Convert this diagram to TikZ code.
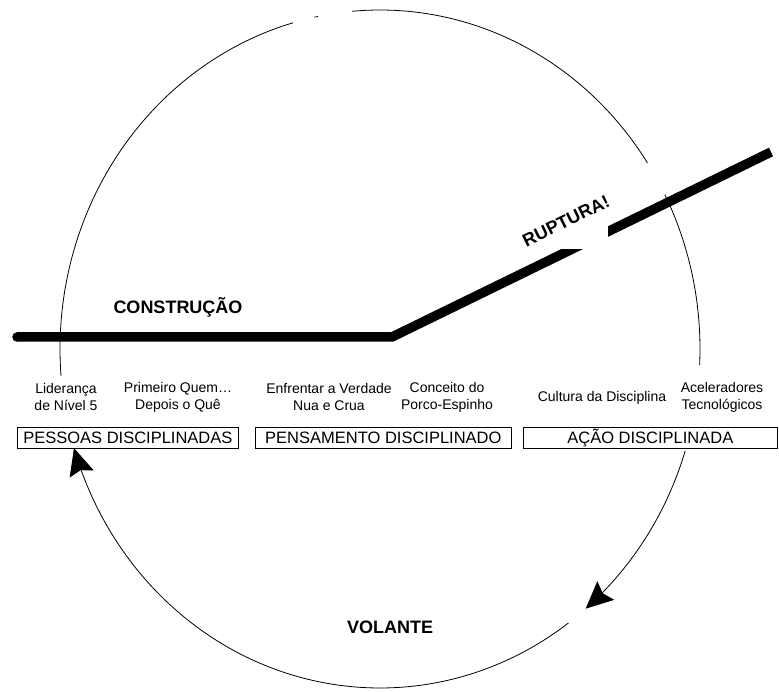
\documentclass[tikz,border=0pt]{standalone}
\usepackage{fontspec}
\setmainfont{Liberation Sans}
\usetikzlibrary{arrows.meta}
\begin{document}
\begin{tikzpicture}[x=1pt,y=-1pt,
  lbl/.style={font=\fontsize{14}{17}\selectfont, align=center, inner sep=0pt},
  pbox/.style={draw, line width=0.7pt, font=\fontsize{16.5}{20}\selectfont, minimum height=21pt, inner sep=0pt, anchor=north west},
  ttl/.style={font=\fontsize{18}{21}\selectfont\bfseries, inner sep=0pt},
  ring/.style={line width=0.8pt},
  bigtip/.style={-{Stealth[length=27pt,width=25pt,inset=4pt]}},
  bar/.style={line width=9.5pt}
]
\useasboundingbox (0,0) rectangle (779,692);
% ring arcs
\draw[ring] plot[domain=175.4:254.2, samples=120] ({380+320*cos(\x)},{349+339*sin(\x)});
\draw[ring] plot[domain=-101.8:-101.2, samples=3] ({380+320*cos(\x)},{349+339*sin(\x)});
\draw[ring] plot[domain=-95:-33.3, samples=120] ({380+320*cos(\x)},{349+339*sin(\x)});
\draw[ring] plot[domain=-27.1:2.7, samples=60] ({380+320*cos(\x)},{349+339*sin(\x)});
\draw[ring, bigtip] plot[domain=17.5:50, samples=60] ({380+320*cos(\x)},{349+339*sin(\x)});
\draw[ring, bigtip] plot[domain=53.9:163, samples=200] ({380+320*cos(\x)},{349+339*sin(\x)});
% thick line
\coordinate (s) at (17,337);
\coordinate (k) at (392,337);
\coordinate (e) at (771,152);
\draw[bar] (s) -- (k) -- (e);
\fill (s) circle (4.75pt);
\fill[white] (540,190) rectangle (608,249);
\node[ttl, rotate=26] (rup) at (566,221) {RUPTURA!};
\node[ttl] (con) at (178,307) {CONSTRUÇÃO};
\node[ttl] (vol) at (390,627) {VOLANTE};
% labels
\node[lbl] (l1) at (66,397) {Liderança\\de Nível 5};
\node[lbl] (l2) at (178,397) {Primeiro Quem…\\Depois o Quê};
\node[lbl] (l3) at (329,397) {Enfrentar a Verdade\\Nua e Crua};
\node[lbl] (l4) at (447,397) {Conceito do\\Porco-Espinho};
\node[lbl] (l5) at (602,398) {Cultura da Disciplina};
\node[lbl] (l6) at (722,397) {Aceleradores\\Tecnológicos};
% boxes
\node[pbox, minimum width=221pt] (b1) at (17,427) {PESSOAS DISCIPLINADAS};
\node[pbox, minimum width=256pt] (b2) at (255,427) {PENSAMENTO DISCIPLINADO};
\node[pbox, minimum width=254pt] (b3) at (523,427) {AÇÃO DISCIPLINADA};
\end{tikzpicture}
\end{document}
